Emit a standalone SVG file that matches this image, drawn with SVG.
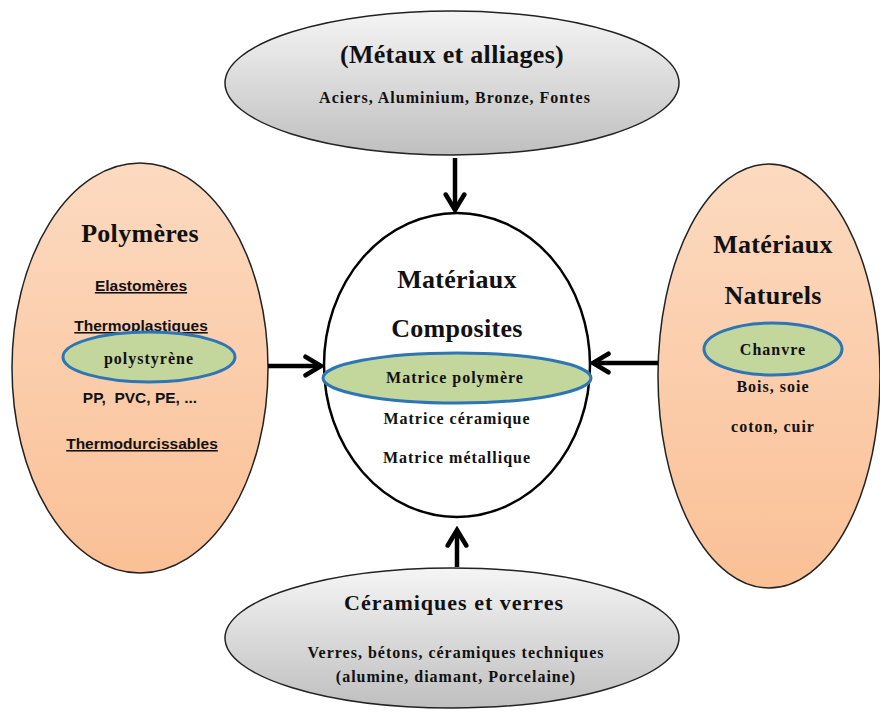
<svg xmlns="http://www.w3.org/2000/svg" width="880" height="712" viewBox="0 0 880 712">
<defs>
<linearGradient id="gGray" x1="0" y1="0" x2="0" y2="1">
<stop offset="0" stop-color="#f5f5f5"/>
<stop offset="1" stop-color="#bfbfbf"/>
</linearGradient>
<linearGradient id="gOrange" x1="0" y1="0" x2="0" y2="1">
<stop offset="0" stop-color="#fcdac0"/>
<stop offset="1" stop-color="#fac096"/>
</linearGradient>
<marker id="arr" viewBox="0 0 12 12" refX="10" refY="6" markerWidth="5.5" markerHeight="5.5" orient="auto" markerUnits="strokeWidth">
<polyline points="2.5,1.5 10,6 2.5,10.5" fill="none" stroke="#000" stroke-width="2.2" stroke-linecap="round" stroke-linejoin="miter"/>
</marker>
</defs>
<style>
.outer{stroke:#222;stroke-width:1.5}
.green{fill:#c3d69b;stroke:#2e75b6;stroke-width:3}
.t{font-family:"Liberation Serif",serif;font-weight:bold;fill:#111;text-anchor:middle}
.h{font-size:26px;letter-spacing:0.3px}
.m{font-size:16px;letter-spacing:1px}
.s{font-family:"Liberation Sans",sans-serif;font-weight:bold;font-size:15.5px;fill:#111;text-anchor:middle}
.u{text-decoration:underline}
.conn{stroke:#000;stroke-width:4.5;fill:none;marker-end:url(#arr)}
</style>
<rect width="880" height="712" fill="#fff"/>

<g id="metaux">
<ellipse cx="452" cy="83" rx="227" ry="72" fill="url(#gGray)" class="outer"/>
<text class="t h" x="452" y="63">(Métaux et alliages)</text>
<text class="t m" x="455" y="103">Aciers, Aluminium, Bronze, Fontes</text>
</g>

<g id="polymeres">
<ellipse cx="140" cy="368" rx="128" ry="205" fill="url(#gOrange)" class="outer"/>
<text class="t h" x="140" y="242">Polymères</text>
<text class="s u" x="141" y="291">Elastomères</text>
<text class="s u" x="141" y="331">Thermoplastiques</text>
<ellipse cx="149" cy="357" rx="86" ry="25" class="green"/>
<text class="t m" x="149" y="364">polystyrène</text>
<text class="s" x="140" y="403">PP,&#160; PVC, PE, ...</text>
<text class="s u" x="142" y="449">Thermodurcissables</text>
</g>

<g id="composites">
<ellipse cx="457" cy="365" rx="133" ry="152" fill="#fff" stroke="#000" stroke-width="2.5"/>
<text class="t h" x="457" y="288">Matériaux</text>
<text class="t h" x="457" y="337">Composites</text>
<ellipse cx="457" cy="378" rx="134" ry="25" class="green"/>
<text class="t m" x="455" y="383">Matrice polymère</text>
<text class="t m" x="457" y="424">Matrice céramique</text>
<text class="t m" x="457" y="463">Matrice métallique</text>
</g>

<g id="naturels">
<ellipse cx="769" cy="376" rx="111" ry="212" fill="url(#gOrange)" class="outer"/>
<text class="t h" x="773" y="253">Matériaux</text>
<text class="t h" x="773" y="304">Naturels</text>
<ellipse cx="773" cy="349" rx="69" ry="26" class="green"/>
<text class="t m" x="773" y="355">Chanvre</text>
<text class="t m" x="773" y="392">Bois, soie</text>
<text class="t m" x="773" y="432">coton, cuir</text>
</g>

<g id="ceramiques">
<ellipse cx="452" cy="638" rx="227" ry="70" fill="url(#gGray)" class="outer"/>
<text class="t" style="font-size:22px;letter-spacing:1px" x="454" y="610">Céramiques et verres</text>
<text class="t m" x="456" y="658">Verres, bétons, céramiques techniques</text>
<text class="t m" x="456" y="682">(alumine, diamant, Porcelaine)</text>
</g>

<g id="connectors">
<line class="conn" x1="455" y1="158" x2="455" y2="210"/>
<line class="conn" x1="457" y1="567" x2="457" y2="530"/>
<line class="conn" x1="268" y1="366" x2="321" y2="366"/>
<line class="conn" x1="658" y1="363" x2="593" y2="363"/>
</g>
</svg>
